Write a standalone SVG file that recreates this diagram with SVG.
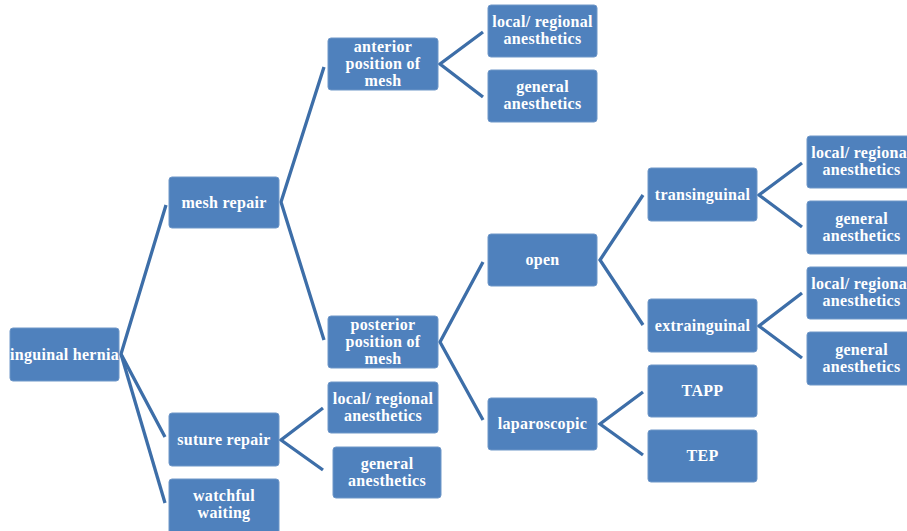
<svg xmlns="http://www.w3.org/2000/svg" width="907" height="531" viewBox="0 0 907 531">
<style>
.n rect{fill:#4f81bd;stroke:#6f97c8;stroke-width:1}
.n text{fill:#ffffff;font-family:"Liberation Serif","DejaVu Serif",serif;font-weight:bold;font-size:16px;letter-spacing:0.3px;text-anchor:middle}
.c polyline{fill:none;stroke:#3d6ea8;stroke-width:3.3;stroke-linejoin:miter}
</style>
<rect x="0" y="0" width="907" height="531" fill="#ffffff"/>
<g id="connectors" class="c">
<polyline points="166,205 121,354 165,437"/>
<polyline points="121,354 165,503"/>
<polyline points="324,67 281,202 324,340"/>
<polyline points="483,32 440,64 483,97"/>
<polyline points="483,262 440,342 483,420"/>
<polyline points="643,195 600,260 643,325"/>
<polyline points="643,392 600,424 643,455"/>
<polyline points="802,163 759,195 802,227"/>
<polyline points="802,293 759,326 802,358"/>
<polyline points="323,408 281,440 323,470"/>
</g>
<g id="inguinal-hernia" class="n"><rect x="10" y="328" width="109" height="53" rx="3"/><text x="64.5" y="359.5">inguinal hernia</text></g>
<g id="mesh-repair" class="n"><rect x="169" y="177" width="110" height="51" rx="3"/><text x="224" y="207.5">mesh repair</text></g>
<g id="suture-repair" class="n"><rect x="169" y="413" width="110" height="53" rx="3"/><text x="224" y="444.5">suture repair</text></g>
<g id="watchful-waiting" class="n"><rect x="169" y="479" width="110" height="56" rx="3"/><text x="224" y="501">watchful</text><text x="224" y="518">waiting</text></g>
<g id="anterior" class="n"><rect x="328" y="38" width="110" height="52" rx="3"/><text x="383" y="52">anterior</text><text x="383" y="69">position of</text><text x="383" y="86">mesh</text></g>
<g id="posterior" class="n"><rect x="328" y="316" width="110" height="52" rx="3"/><text x="383" y="330">posterior</text><text x="383" y="347">position of</text><text x="383" y="364">mesh</text></g>
<g id="suture-local" class="n"><rect x="328" y="382" width="110" height="51" rx="3"/><text x="383" y="404">local/ regional</text><text x="383" y="421">anesthetics</text></g>
<g id="suture-general" class="n"><rect x="333" y="447" width="108" height="51" rx="3"/><text x="387" y="469">general</text><text x="387" y="486">anesthetics</text></g>
<g id="anterior-local" class="n"><rect x="488" y="5" width="109" height="52" rx="3"/><text x="542.5" y="27">local/ regional</text><text x="542.5" y="44">anesthetics</text></g>
<g id="anterior-general" class="n"><rect x="488" y="70" width="109" height="52" rx="3"/><text x="542.5" y="92">general</text><text x="542.5" y="109">anesthetics</text></g>
<g id="open" class="n"><rect x="488" y="234" width="109" height="52" rx="3"/><text x="542.5" y="265">open</text></g>
<g id="laparoscopic" class="n"><rect x="488" y="398" width="109" height="52" rx="3"/><text x="542.5" y="429">laparoscopic</text></g>
<g id="transinguinal" class="n"><rect x="648" y="168" width="109" height="53" rx="3"/><text x="702.5" y="199.5">transinguinal</text></g>
<g id="extrainguinal" class="n"><rect x="648" y="299" width="109" height="53" rx="3"/><text x="702.5" y="330.5">extrainguinal</text></g>
<g id="tapp" class="n"><rect x="648" y="365" width="109" height="52" rx="3"/><text x="702.5" y="396">TAPP</text></g>
<g id="tep" class="n"><rect x="648" y="430" width="109" height="52" rx="3"/><text x="702.5" y="461">TEP</text></g>
<g id="trans-local" class="n"><rect x="807" y="136" width="109" height="52" rx="3"/><text x="861.5" y="158">local/ regional</text><text x="861.5" y="175">anesthetics</text></g>
<g id="trans-general" class="n"><rect x="807" y="201" width="109" height="53" rx="3"/><text x="861.5" y="223.5">general</text><text x="861.5" y="240.5">anesthetics</text></g>
<g id="extra-local" class="n"><rect x="807" y="267" width="109" height="52" rx="3"/><text x="861.5" y="289">local/ regional</text><text x="861.5" y="306">anesthetics</text></g>
<g id="extra-general" class="n"><rect x="807" y="332" width="109" height="53" rx="3"/><text x="861.5" y="354.5">general</text><text x="861.5" y="371.5">anesthetics</text></g>
</svg>
